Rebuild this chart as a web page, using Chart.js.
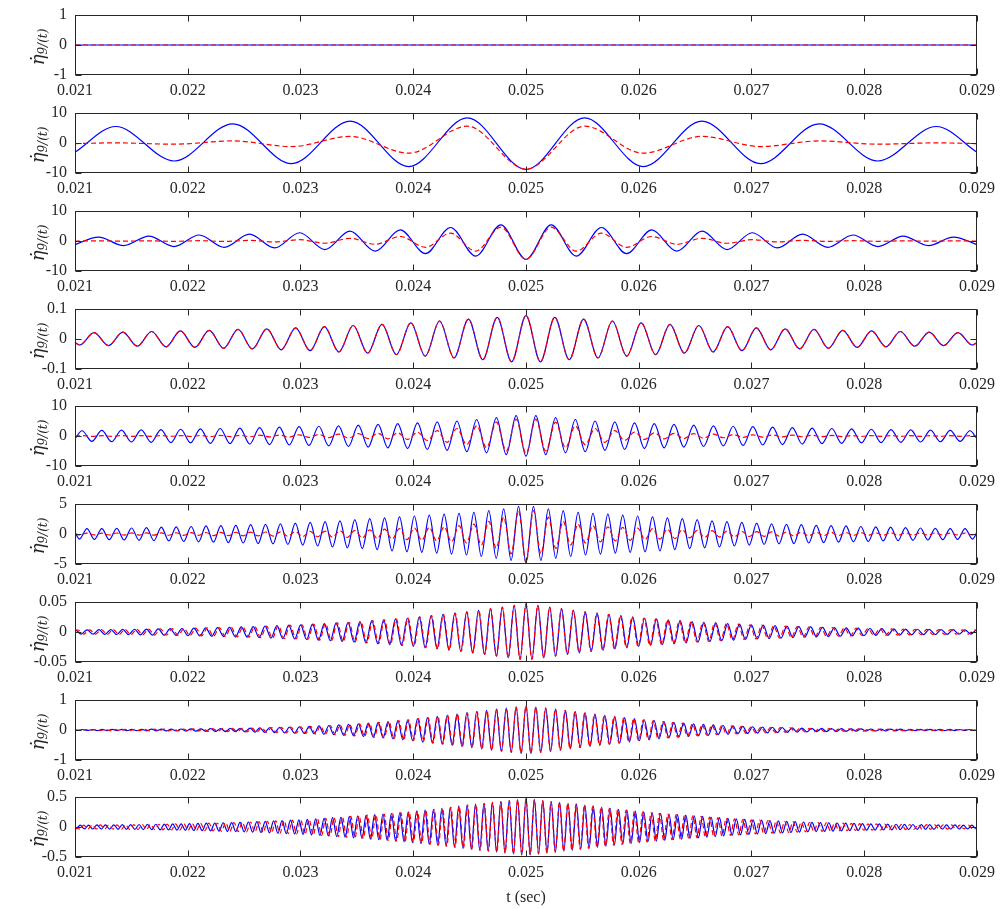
<!DOCTYPE html>
<html>
<head>
<meta charset="utf-8">
<script src="https://cdn.jsdelivr.net/npm/chart.js@4.4.1/dist/chart.umd.min.js"></script>
<style>
  html, body { margin: 0; padding: 0; background: #fff; }
  #wrap { position: relative; width: 1000px; height: 909px; overflow: hidden; }
  .panel { position: absolute; left: 0; width: 1000px; }
</style>
</head>
<body>
<div id="wrap"></div>
<script>
// time axis (sec)
const tStart = 0.021;
const tEnd = 0.029;
const xTicks = [0.021, 0.022, 0.023, 0.024, 0.025, 0.026, 0.027, 0.028, 0.029];

// each series: value at t=0.021, then every extremum (centred on 0.025, fixed spacing), then value at t=0.029
// panel 1
const p1YTicks = [-1, 0, 1];
const p1Step = 0.004;
const p1Blue = [0, 0, 0];
const p1Red = [0, 0, 0];

// panel 2
const p2YTicks = [-10, 0, 10];
const p2Step = 0.00052;
const p2Blue = [-3.1, 5.5, -6.0, 6.4, -6.9, 7.3, -7.9, 8.4, -8.8, 8.4, -7.9, 7.3, -6.9, 6.4, -6.0, 5.5, -3.1];
const p2Red = [-0.2, 0.05, -0.4, 0.7, -1.2, 2.2, -3.4, 5.6, -8.7, 5.6, -3.4, 2.2, -1.2, 0.7, -0.4, 0.05, -0.2];

// panel 3
const p3YTicks = [-10, 0, 10];
const p3Step = 0.000223;
const p3Blue = [-1.2, 1.3, -1.55, 1.65, -1.85, 2.0, -2.1, 2.3, -2.3, 2.75, -2.85, 3.3, -3.4, 3.7, -4.2, 4.5, -5.05, 5.4,
  -6.15, 5.4, -5.05, 4.5, -4.2, 3.7, -3.4, 3.3, -2.85, 2.75, -2.3, 2.3, -2.1, 2.0, -1.85, 1.65, -1.55, 1.3, -1.2];
const p3Red = [0, 0.03, -0.05, 0.05, -0.1, 0.1, -0.15, 0.2, -0.3, 0.45, -0.75, 0.9, -1.1, 1.5, -2.1, 2.6, -3.4, 4.6,
  -6.1, 4.6, -3.4, 2.6, -2.1, 1.5, -1.1, 0.9, -0.75, 0.45, -0.3, 0.2, -0.15, 0.1, -0.1, 0.05, -0.05, 0.03, 0];

// panel 4
const p4YTicks = [-0.1, 0, 0.1];
const p4Step = 0.0001277;
const p4Blue = [-0.012,
  -0.020, 0.021, -0.022, 0.023, -0.024, 0.025, -0.026, 0.027, -0.028, 0.029, -0.031,
  0.032, -0.033, 0.034, -0.036, 0.037, -0.039, 0.041, -0.043, 0.045, -0.047,
  0.049, -0.052, 0.054, -0.057, 0.060, -0.063, 0.066, -0.069, 0.072, -0.076,
  0.078,
  -0.076, 0.072, -0.069, 0.066, -0.063, 0.060, -0.057, 0.054, -0.052, 0.049,
  -0.047, 0.045, -0.043, 0.041, -0.039, 0.037, -0.036, 0.034, -0.033, 0.032,
  -0.031, 0.029, -0.028, 0.027, -0.026, 0.025, -0.024, 0.023, -0.022, 0.021, -0.020,
  -0.012];
const p4Red = p4Blue; // both curves lie on top of each other

// panel 5
const p5YTicks = [-10, 0, 10];
const p5Step = 0.0000875;
const p5Blue = [-0.9,
  1.75, -1.8, 1.85, -1.9, 1.95,
  -2.0, 2.05, -2.1, 2.15, -2.2, 2.25, -2.3, 2.4, -2.45, 2.5,
  -2.55, 2.65, -2.7, 2.8, -2.85, 2.95, -3.0, 3.1, -3.15, 3.25,
  -3.3, 3.4, -3.5, 3.6, -3.7, 3.85, -3.95, 4.1, -4.2, 4.4,
  -4.5, 4.7, -4.8, 5.0, -5.2, 5.5, -5.6, 6.1, -6.2, 6.8,
  -6.7,
  6.8, -6.2, 6.1, -5.6, 5.5, -5.2, 5.0, -4.8, 4.7, -4.5,
  4.4, -4.2, 4.1, -3.95, 3.85, -3.7, 3.6, -3.5, 3.4, -3.3,
  3.25, -3.15, 3.1, -3.0, 2.95, -2.85, 2.8, -2.7, 2.65, -2.55,
  2.5, -2.45, 2.4, -2.3, 2.25, -2.2, 2.15, -2.1, 2.05, -2.0,
  1.95, -1.9, 1.85, -1.8, 1.75,
  -0.9];
const p5Red = [0,
  0.1, -0.1, 0.1, -0.1, 0.11,
  -0.11, 0.12, -0.12, 0.13, -0.14, 0.15, -0.16, 0.17, -0.18, 0.2,
  -0.21, 0.23, -0.25, 0.27, -0.3, 0.33, -0.36, 0.4, -0.45, 0.5,
  -0.58, 0.65, -0.72, 0.8, -0.85, 0.9, -0.95, 1.05, -1.15, 1.3,
  -1.5, 1.8, -2.1, 2.5, -2.9, 3.4, -3.9, 4.6, -5.0, 5.6,
  -5.8,
  5.6, -5.0, 4.6, -3.9, 3.4, -2.9, 2.5, -2.1, 1.8, -1.5,
  1.3, -1.15, 1.05, -0.95, 0.9, -0.85, 0.8, -0.72, 0.65, -0.58,
  0.5, -0.45, 0.4, -0.36, 0.33, -0.3, 0.27, -0.25, 0.23, -0.21,
  0.2, -0.18, 0.17, -0.16, 0.15, -0.14, 0.13, -0.12, 0.12, -0.11,
  0.11, -0.1, 0.1, -0.1, 0.1,
  0];

// panel 6
const p6YTicks = [-5, 0, 5];
const p6Step = 0.000066;
const p6Blue = [0.3,
  -0.85, 0.9, -0.9, 0.9, -0.95, 0.95, -1.0, 1.0, -1.05, 1.05,
  -1.1, 1.15, -1.15, 1.2, -1.25, 1.25, -1.3, 1.35, -1.35, 1.4,
  -1.45, 1.45, -1.5, 1.55, -1.6, 1.6, -1.65, 1.7, -1.75, 1.8,
  -1.85, 1.95, -2.0, 2.05, -2.15, 2.2, -2.3, 2.4, -2.45, 2.55,
  -2.6, 2.7, -2.8, 2.85, -2.95, 3.0, -3.05, 3.15, -3.2, 3.3,
  -3.35, 3.45, -3.5, 3.6, -3.75, 3.9, -4.05, 4.2, -4.4, 4.6,
  -4.8,
  4.6, -4.4, 4.2, -4.05, 3.9, -3.75, 3.6, -3.5, 3.45, -3.35,
  3.3, -3.2, 3.15, -3.05, 3.0, -2.95, 2.85, -2.8, 2.7, -2.6,
  2.55, -2.45, 2.4, -2.3, 2.2, -2.15, 2.05, -2.0, 1.95, -1.85,
  1.8, -1.75, 1.7, -1.65, 1.6, -1.6, 1.55, -1.5, 1.45, -1.45,
  1.4, -1.35, 1.35, -1.3, 1.25, -1.25, 1.2, -1.15, 1.15, -1.1,
  1.05, -1.05, 1.0, -1.0, 0.95, -0.95, 0.9, -0.9, 0.9, -0.85,
  0.3];
const p6Red = [0,
  -0.15, 0.15, -0.16, 0.16, -0.17, 0.17, -0.18, 0.18, -0.19, 0.19,
  -0.2, 0.2, -0.21, 0.21, -0.22, 0.23, -0.24, 0.25, -0.26, 0.27,
  -0.28, 0.29, -0.3, 0.31, -0.32, 0.33, -0.34, 0.36, -0.38, 0.4,
  -0.42, 0.44, -0.46, 0.49, -0.52, 0.55, -0.58, 0.62, -0.66, 0.7,
  -0.75, 0.8, -0.85, 0.9, -0.95, 1.0, -1.05, 1.1, -1.15, 1.2,
  -1.3, 1.4, -1.5, 1.65, -1.85, 2.1, -2.4, 2.8, -3.3, 3.9,
  -4.8,
  3.9, -3.3, 2.8, -2.4, 2.1, -1.85, 1.65, -1.5, 1.4, -1.3,
  1.2, -1.15, 1.1, -1.05, 1.0, -0.95, 0.9, -0.85, 0.8, -0.75,
  0.7, -0.66, 0.62, -0.58, 0.55, -0.52, 0.49, -0.46, 0.44, -0.42,
  0.4, -0.38, 0.36, -0.34, 0.33, -0.32, 0.31, -0.3, 0.29, -0.28,
  0.27, -0.26, 0.25, -0.24, 0.23, -0.22, 0.21, -0.21, 0.2, -0.2,
  0.19, -0.19, 0.18, -0.18, 0.17, -0.17, 0.16, -0.16, 0.15, -0.15,
  0];

// panel 7
const p7YTicks = [-0.05, 0, 0.05];
const p7Step = 0.0000526;
const p7RedStep = 0.0000523;
const p7Blue = [.0033,
  .0033, -.0034, .0036, -.0037, .0038, -.0039, .0041, -.0042, .0043, -.0044, .0046, -.0047, .0049, -.0051, .0052, -.0054,
  .0055, -.0057, .0058, -.0060, .0063, -.0065, .0068, -.0071, .0073, -.0076, .0078, -.0081, .0084, -.0087, .0091, -.0094,
  .0098, -.0102, .0105, -.0109, .0113, -.0116, .0120, -.0125, .0131, -.0136, .0141, -.0146, .0152, -.0157, .0162, -.0168,
  .0174, -.0181, .0188, -.0196, .0203, -.0211, .0218, -.0225, .0233, -.0240, .0251, -.0261, .0272, -.0282, .0293, -.0303,
  .0314, -.0324, .0335, -.0347, .0361, -.0374, .0388, -.0402, .0415, -.0429, .0443, -.0456,
  .0470,
  -.0456, .0443, -.0429, .0415, -.0402, .0388, -.0374, .0361, -.0347, .0335, -.0324, .0314,
  -.0303, .0293, -.0282, .0272, -.0261, .0251, -.0240, .0233, -.0225, .0218, -.0211, .0203, -.0196, .0188, -.0181, .0174,
  -.0168, .0162, -.0157, .0152, -.0146, .0141, -.0136, .0131, -.0125, .0120, -.0116, .0113, -.0109, .0105, -.0102, .0098,
  -.0094, .0091, -.0087, .0084, -.0081, .0078, -.0076, .0073, -.0071, .0068, -.0065, .0063, -.0060, .0058, -.0057, .0055,
  -.0054, .0052, -.0051, .0049, -.0047, .0046, -.0044, .0043, -.0042, .0041, -.0039, .0038, -.0037, .0036, -.0034, .0033,
  .0033];
const p7Red = p7Blue; // same amplitudes, slightly shorter spacing

// panel 8
const p8YTicks = [-1, 0, 1];
const p8Step = 0.0000437;
const p8RedStep = 0.0000434;
const p8Blue = [0,
  -.015, .016, -.017, .017, -.018, .018, -.019, .020, -.020, .021, -.021, .022, -.023, .024, -.026, .027,
  -.028, .029, -.030, .031, -.032, .033, -.035, .036, -.039, .041, -.043, .045, -.047, .050, -.052, .054,
  -.056, .058, -.061, .065, -.070, .074, -.078, .083, -.087, .092, -.096, .100, -.105, .109, -.115, .122,
  -.129, .136, -.143, .150, -.159, .168, -.177, .185, -.194, .204, -.216, .228, -.241, .253, -.265, .279,
  -.295, .311, -.327, .342, -.358, .377, -.396, .415, -.435, .454, -.473, .492, -.511, .531, -.550, .569,
  -.589, .610, -.631, .652, -.673, .694, -.713, .730, -.748, .765, -.783,
  .800,
  -.783, .765, -.748, .730, -.713, .694, -.673, .652, -.631, .610, -.589, .569, -.550, .531, -.511, .492,
  -.473, .454, -.435, .415, -.396, .377, -.358, .342, -.327, .311, -.295, .279, -.265, .253, -.241, .228,
  -.216, .204, -.194, .185, -.177, .168, -.159, .150, -.143, .136, -.129, .122, -.115, .109, -.105, .100,
  -.096, .092, -.087, .083, -.078, .074, -.070, .065, -.061, .058, -.056, .054, -.052, .050, -.047, .045,
  -.043, .041, -.039, .036, -.035, .033, -.032, .031, -.030, .029, -.028, .027, -.026, .024, -.023, .022,
  -.021, .021, -.020, .020, -.019, .018, -.018, .017, -.017, .016, -.015,
  0];
const p8Red = p8Blue;

// panel 9
const p9YTicks = [-0.5, 0, 0.5];
const p9Step = 0.0000373;
const p9RedStep = 0.0000370;
const p9Blue = [-.022,
  -.030, .031, -.032, .032, -.033, .034, -.035, .035, -.036, .037, -.038, .038, -.039, .040, -.041, .042,
  -.043, .044, -.045, .046, -.047, .049, -.050, .051, -.052, .053, -.054, .056, -.058, .060, -.061, .063,
  -.065, .067, -.069, .071, -.073, .074, -.076, .078, -.080, .083, -.086, .089, -.092, .095, -.098, .101,
  -.104, .107, -.110, .113, -.116, .119, -.123, .127, -.132, .136, -.141, .145, -.150, .155, -.160, .165,
  -.170, .176, -.181, .186, -.191, .197, -.202, .207, -.212, .217, -.223, .229, -.235, .241, -.247, .253,
  -.259, .266, -.273, .281, -.288, .296, -.303, .311, -.320, .329, -.338, .347, -.356, .365, -.373, .380,
  -.388, .395, -.403, .410, -.418, .425, -.433, .440, -.448, .455, -.463,
  .470,
  -.463, .455, -.448, .440, -.433, .425, -.418, .410, -.403, .395, -.388, .380, -.373, .365, -.356, .347,
  -.338, .329, -.320, .311, -.303, .296, -.288, .281, -.273, .266, -.259, .253, -.247, .241, -.235, .229,
  -.223, .217, -.212, .207, -.202, .197, -.191, .186, -.181, .176, -.170, .165, -.160, .155, -.150, .145,
  -.141, .136, -.132, .127, -.123, .119, -.116, .113, -.110, .107, -.104, .101, -.098, .095, -.092, .089,
  -.086, .083, -.080, .078, -.076, .074, -.073, .071, -.069, .067, -.065, .063, -.061, .060, -.058, .056,
  -.054, .053, -.052, .051, -.050, .049, -.047, .046, -.045, .044, -.043, .042, -.041, .040, -.039, .038,
  -.038, .037, -.036, .035, -.035, .034, -.033, .032, -.032, .031, -.030,
  -.022];
const p9Red = p9Blue;

const panels = [
  { yTicks: p1YTicks, blueStep: p1Step, redStep: p1Step, blue: p1Blue, red: p1Red },
  { yTicks: p2YTicks, blueStep: p2Step, redStep: p2Step, blue: p2Blue, red: p2Red },
  { yTicks: p3YTicks, blueStep: p3Step, redStep: p3Step, blue: p3Blue, red: p3Red },
  { yTicks: p4YTicks, blueStep: p4Step, redStep: p4Step, blue: p4Blue, red: p4Red },
  { yTicks: p5YTicks, blueStep: p5Step, redStep: p5Step, blue: p5Blue, red: p5Red },
  { yTicks: p6YTicks, blueStep: p6Step, redStep: p6Step, blue: p6Blue, red: p6Red },
  { yTicks: p7YTicks, blueStep: p7Step, redStep: p7RedStep, blue: p7Blue, red: p7Red },
  { yTicks: p8YTicks, blueStep: p8Step, redStep: p8RedStep, blue: p8Blue, red: p8Red },
  { yTicks: p9YTicks, blueStep: p9Step, redStep: p9RedStep, blue: p9Blue, red: p9Red },
];

// layout (px)
const panelTops = [15, 113, 211, 309, 406, 504, 602, 700, 797];
const plotLeft = 75;
const plotRight = 977;
const padTop = 12;

// edge values + extrema on a grid centred on 0.025
function seriesPoints(step, values) {
  const n = values.length - 2;
  const half = (n - 1) / 2;
  const pts = [{ x: tStart, y: values[0] }];
  for (let i = 0; i < n; i++) {
    const x = 0.025 + (i - half) * step;
    if (x > tStart && x < tEnd) pts.push({ x: x, y: values[i + 1] });
  }
  pts.push({ x: tEnd, y: values[values.length - 1] });
  return pts;
}

// box, inward tick marks and the y label
const framePlugin = {
  id: "frame",
  afterDraw(chart) {
    const { ctx, chartArea: a, scales } = chart;
    const L = Math.round(a.left) + 0.5, R = Math.round(a.right) - 0.5;
    const T = Math.round(a.top) + 0.5, B = Math.round(a.bottom) - 0.5;
    ctx.save();
    ctx.strokeStyle = "#262626";
    ctx.lineWidth = 1;
    ctx.beginPath();
    scales.x.ticks.forEach((t) => {
      const x = Math.round(scales.x.getPixelForValue(t.value)) + 0.5;
      ctx.moveTo(x, B); ctx.lineTo(x, B - 6);
      ctx.moveTo(x, T); ctx.lineTo(x, T + 6);
    });
    scales.y.ticks.forEach((t) => {
      const y = Math.round(scales.y.getPixelForValue(t.value)) + 0.5;
      ctx.moveTo(L, y); ctx.lineTo(L + 6, y);
      ctx.moveTo(R, y); ctx.lineTo(R - 6, y);
    });
    ctx.stroke();
    ctx.strokeRect(L, T, R - L, B - T);

    // y label
    ctx.translate(44, (a.top + a.bottom) / 2 + 2);
    ctx.rotate(-Math.PI / 2);
    ctx.fillStyle = "#262626";
    ctx.textBaseline = "alphabetic";
    const main = "\u03b7\u0307";
    const sub = "9/(t)";
    ctx.font = 'italic 18px "DejaVu Serif", serif';
    const w1 = ctx.measureText(main).width;
    ctx.font = 'italic 12px "DejaVu Serif", serif';
    const w2 = ctx.measureText(sub).width;
    const x0 = -(w1 + w2) / 2;
    ctx.font = 'italic 18px "DejaVu Serif", serif';
    ctx.fillText(main, x0, 0);
    ctx.font = 'italic 12px "DejaVu Serif", serif';
    ctx.fillText(sub, x0 + w1, 3);
    ctx.restore();
  },
};

Chart.defaults.font.family = '"Liberation Serif", "DejaVu Serif", serif';
Chart.defaults.font.size = 16;
Chart.defaults.color = "#262626";

const wrap = document.getElementById("wrap");

panels.forEach((p, i) => {
  const last = i === panels.length - 1;
  const h = last ? 128 : 98;
  const holder = document.createElement("div");
  holder.className = "panel";
  holder.style.top = panelTops[i] - padTop + "px";
  holder.style.height = h + "px";
  const cv = document.createElement("canvas");
  cv.width = 1000;
  cv.height = h;
  cv.style.width = "1000px";
  cv.style.height = h + "px";
  holder.appendChild(cv);
  wrap.appendChild(holder);

  new Chart(cv, {
    type: "line",
    data: {
      datasets: [
        {
          data: seriesPoints(p.redStep, p.red),
          borderColor: "#ff0000",
          borderWidth: 1.2,
          borderDash: [5, 3],
          pointRadius: 0,
          cubicInterpolationMode: "monotone",
        },
        {
          data: seriesPoints(p.blueStep, p.blue),
          borderColor: "#0000ff",
          borderWidth: 1.2,
          pointRadius: 0,
          cubicInterpolationMode: "monotone",
        },
      ],
    },
    options: {
      responsive: false,
      animation: false,
      devicePixelRatio: 1,
      layout: { padding: { top: padTop, right: 1000 - plotRight, left: 0, bottom: 0 } },
      plugins: { legend: { display: false }, tooltip: { enabled: false } },
      scales: {
        x: {
          type: "linear",
          min: tStart,
          max: tEnd,
          grid: { display: false, drawTicks: false },
          border: { display: false },
          afterBuildTicks: (s) => { s.ticks = xTicks.map((v) => ({ value: v })); },
          afterFit: (s) => {
            s.height = last ? 56 : 26;
            s.paddingLeft = 0;
            s.paddingRight = 0;
          },
          ticks: { autoSkip: false, maxRotation: 0, padding: 6, callback: (v) => v.toFixed(3) },
          title: { display: last, text: "t (sec)", padding: { top: 0, bottom: 6 } },
        },
        y: {
          type: "linear",
          min: p.yTicks[0],
          max: p.yTicks[p.yTicks.length - 1],
          grid: { display: false, drawTicks: false },
          border: { display: false },
          afterBuildTicks: (s) => { s.ticks = p.yTicks.map((v) => ({ value: v })); },
          afterFit: (s) => {
            s.width = plotLeft;
            s.paddingTop = 0;
            s.paddingBottom = 0;
          },
          ticks: { padding: 8, callback: (v) => String(v) },
        },
      },
    },
    plugins: [framePlugin],
  });
});
</script>
</body>
</html>
